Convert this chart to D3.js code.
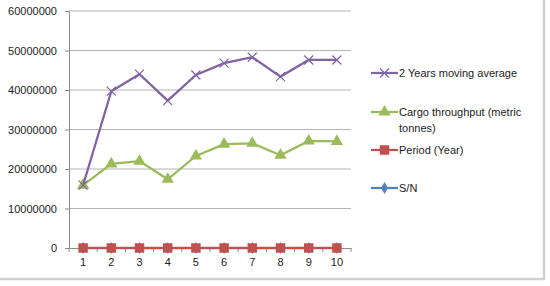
<!DOCTYPE html>
<html>
<head>
<meta charset="utf-8">
<script src="https://cdn.jsdelivr.net/npm/d3@7"></script>
<style>
  body { margin: 0; background: #fff; }
  svg { display: block; font-family: "Liberation Sans", Arial, sans-serif; }
</style>
</head>
<body>
<div id="chart"></div>
<script>
// data
const years = ["1", "2", "3", "4", "5", "6", "7", "8", "9", "10"];
const movingAvg = [15900000, 39700000, 44000000, 37300000, 43800000, 46800000, 48300000, 43400000, 47600000, 47600000];
const cargo = [15900000, 21300000, 22000000, 17400000, 23300000, 26300000, 26500000, 23500000, 27100000, 27000000];
const period = [2005, 2006, 2007, 2008, 2009, 2010, 2011, 2012, 2013, 2014];
const sn = [1, 2, 3, 4, 5, 6, 7, 8, 9, 10];
const yTicks = [0, 10000000, 20000000, 30000000, 40000000, 50000000, 60000000];

const W = 550, H = 286;
const plot = {left: 69, right: 351, top: 11, bottom: 248};

const svg = d3.select("#chart").append("svg")
  .attr("width", W)
  .attr("height", H);

// outer frame (only right and bottom edges fall inside the picture)
svg.append("rect")
  .attr("x", -2).attr("y", -2)
  .attr("width", 546).attr("height", 281)
  .attr("fill", "none")
  .attr("stroke", "#d0d0d0")
  .attr("stroke-width", 2.5);

const x = d3.scaleBand()
  .domain(years)
  .range([plot.left, plot.right]);

const y = d3.scaleLinear()
  .domain([0, 60000000])
  .range([plot.bottom, plot.top]);

// gridlines
svg.append("g")
  .selectAll("line")
  .data(yTicks.slice(1))
  .join("line")
  .attr("x1", plot.left).attr("x2", plot.right)
  .attr("y1", d => y(d)).attr("y2", d => y(d))
  .attr("stroke", "#b4b4b4")
  .attr("stroke-width", 1);

// y axis
const yAxis = svg.append("g")
  .attr("transform", `translate(${plot.left},0)`)
  .call(d3.axisLeft(y).tickValues(yTicks).tickSize(4).tickPadding(8).tickFormat(d => String(d)));
yAxis.select(".domain").attr("stroke", "#8c8c8c");
yAxis.selectAll(".tick line").attr("stroke", "#8c8c8c");
yAxis.selectAll("text").attr("font-size", 11).attr("fill", "#222");

// x axis
const xAxis = svg.append("g")
  .attr("transform", `translate(0,${plot.bottom})`)
  .call(d3.axisBottom(x).tickSize(0).tickPadding(10));
xAxis.select(".domain").attr("stroke", "#8c8c8c");
xAxis.selectAll("text").attr("font-size", 11).attr("fill", "#222");
xAxis.append("g")
  .selectAll("line")
  .data(d3.range(years.length + 1))
  .join("line")
  .attr("x1", i => plot.left + i * x.step())
  .attr("x2", i => plot.left + i * x.step())
  .attr("y1", 0).attr("y2", 4)
  .attr("stroke", "#8c8c8c");

const cx = d => x(d) + x.bandwidth() / 2;

const series = [
  {name: "S/N", values: sn, color: "#4F81BD", marker: "diamond"},
  {name: "Period (Year)", values: period, color: "#C0504D", marker: "square"},
  {name: "Cargo throughput (metric tonnes)", values: cargo, color: "#9BBB59", marker: "triangle"},
  {name: "2 Years moving average", values: movingAvg, color: "#8064A2", marker: "x"}
];

function drawMarker(g, type, color) {
  if (type === "x") {
    g.append("path").attr("d", "M-4.5,-4.5L4.5,4.5M-4.5,4.5L4.5,-4.5")
      .attr("stroke", color).attr("stroke-width", 1.2).attr("fill", "none");
  } else {
    const sym = {diamond: d3.symbolDiamond, square: d3.symbolSquare, triangle: d3.symbolTriangle}[type];
    const size = {diamond: 40, square: 90, triangle: 65}[type];
    g.append("path").attr("d", d3.symbol(sym, size)()).attr("fill", color);
  }
}

const line = d3.line()
  .x((d, i) => cx(years[i]))
  .y(d => y(d));

series.forEach(s => {
  svg.append("path")
    .datum(s.values)
    .attr("d", line)
    .attr("fill", "none")
    .attr("stroke", s.color)
    .attr("stroke-width", 2.25);
  s.values.forEach((v, i) => {
    const g = svg.append("g").attr("transform", `translate(${cx(years[i])},${y(v)})`);
    drawMarker(g, s.marker, s.color);
  });
});

// legend
const legend = [
  {lines: ["2 Years moving average"], s: series[3], y: 73},
  {lines: ["Cargo throughput (metric", "tonnes)"], s: series[2], y: 112},
  {lines: ["Period (Year)"], s: series[1], y: 150},
  {lines: ["S/N"], s: series[0], y: 188}
];

legend.forEach(item => {
  const g = svg.append("g").attr("transform", `translate(371,${item.y})`);
  g.append("line").attr("x1", 0).attr("x2", 27)
    .attr("stroke", item.s.color).attr("stroke-width", 2.25);
  const m = g.append("g").attr("transform", "translate(13.5,0)");
  drawMarker(m, item.s.marker, item.s.color);
  item.lines.forEach((t, j) => {
    g.append("text")
      .attr("x", 28).attr("y", j * 16)
      .attr("dy", "0.35em")
      .attr("font-size", 11)
      .attr("fill", "#222")
      .text(t);
  });
});
</script>
</body>
</html>
